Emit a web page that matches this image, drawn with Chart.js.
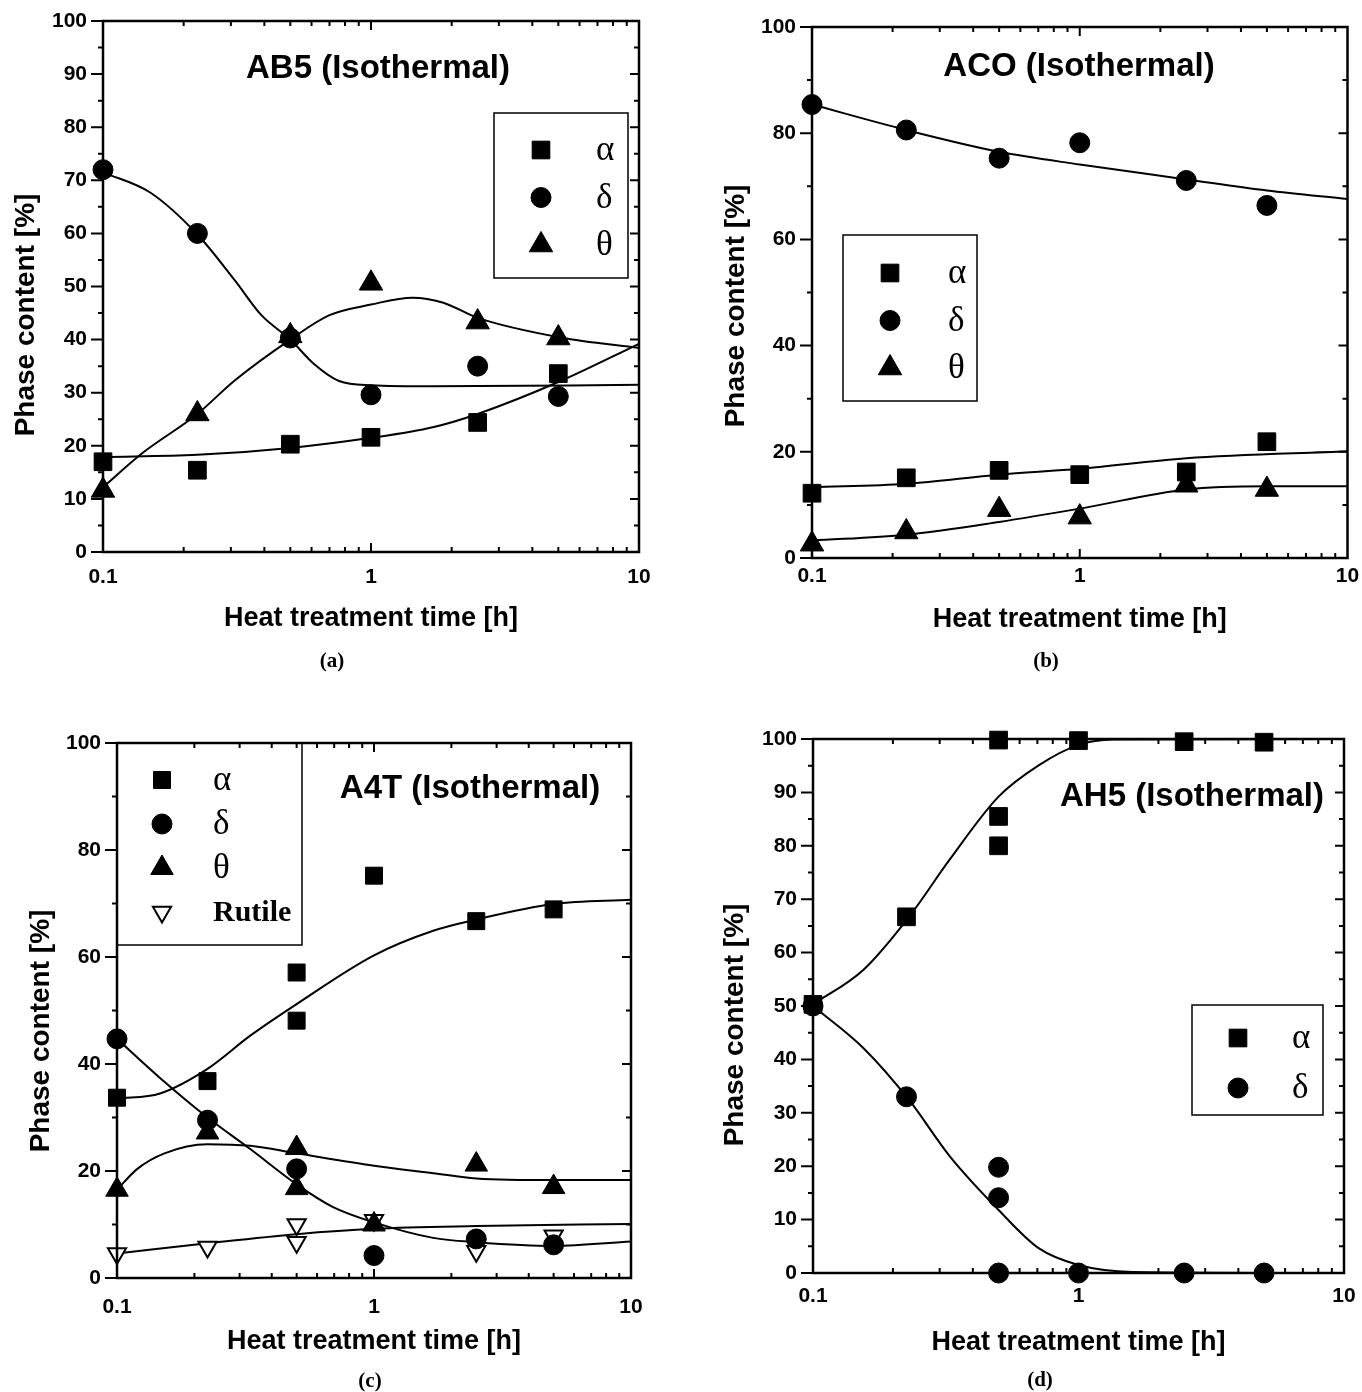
<!DOCTYPE html>
<html>
<head>
<meta charset="utf-8">
<title>Phase content vs. heat treatment time</title>
<script src="https://cdn.jsdelivr.net/npm/chart.js@4.4.1/dist/chart.umd.min.js"></script>
<style>
  body { margin: 0; background: #fff; }
  #page { position: relative; width: 1362px; height: 1392px; overflow: hidden; background: #fff; }
  #page canvas { position: absolute; }
  .caption { position: absolute; width: 60px; margin-left: -30px; text-align: center; line-height: 24px;
             font: bold 21px "Liberation Serif", "Times New Roman", serif; color: #000; }
</style>
</head>
<body>
<div id="page">
  <canvas id="chart-a" width="680" height="690" style="left:0;top:0"></canvas>
  <canvas id="chart-b" width="682" height="690" style="left:680px;top:0"></canvas>
  <canvas id="chart-c" width="680" height="692" style="left:0;top:700px"></canvas>
  <canvas id="chart-d" width="682" height="692" style="left:680px;top:700px"></canvas>
  <div class="caption" style="left:332px;top:648px">(a)</div>
  <div class="caption" style="left:1046px;top:648px">(b)</div>
  <div class="caption" style="left:370px;top:1368px">(c)</div>
  <div class="caption" style="left:1040px;top:1367px">(d)</div>
</div>
<script>
const SANS = '"Liberation Sans", Arial, sans-serif';
const SERIF = '"Liberation Serif", "Times New Roman", serif';

// (a) AB5 - measured points
const ab5Times = [0.1, 0.225, 0.5, 1, 2.5, 5];
const ab5Alpha = [17, 15.4, 20.3, 21.6, 24.4, 33.6];
const ab5Delta = [72, 60, 40.3, 29.6, 35, 29.3];
const ab5Theta = [11.6, 26, 40.7, 50.6, 43.3, 40.3];
// (a) fitted curves
const ab5FitAlphaX = [0.1, 0.225, 0.5, 1, 1.7, 2.5, 5.1, 10];
const ab5FitAlphaY = [17.9, 18.3, 19.6, 21.5, 23.5, 26, 32.2, 39.2];
const ab5FitDeltaX = [0.1, 0.15, 0.225, 0.31, 0.39, 0.5, 0.61, 0.76, 1, 1.7, 10];
const ab5FitDeltaY = [71.5, 67.7, 59.8, 51.2, 44.6, 40, 35.5, 32.2, 31.4, 31.2, 31.5];
const ab5FitThetaX = [0.1, 0.14, 0.225, 0.31, 0.5, 0.7, 1, 1.43, 1.85, 2.5, 5.1, 10];
const ab5FitThetaY = [12.2, 18.6, 26, 32.3, 40, 44.6, 46.6, 47.9, 47, 44.1, 40.4, 38.4];

// (b) ACO
const acoTimes = [0.1, 0.225, 0.5, 1, 2.5, 5];
const acoAlpha = [12.2, 15.1, 16.5, 15.7, 16.2, 21.9];
const acoDelta = [85.4, 80.6, 75.3, 78.2, 71.1, 66.4];
const acoTheta = [2.6, 4.9, 9.1, 7.7, 13.7, 12.9];
const acoFitAlphaX = [0.1, 0.225, 0.5, 1, 2.5, 10];
const acoFitAlphaY = [13.3, 14, 15.7, 16.8, 18.8, 20.1];
const acoFitDeltaX = [0.1, 0.225, 0.5, 1, 2.5, 5, 10];
const acoFitDeltaY = [85.4, 80.6, 76.5, 74.1, 71.3, 69.2, 67.6];
const acoFitThetaX = [0.1, 0.225, 0.5, 1, 2.5, 5, 10];
const acoFitThetaY = [3.3, 4.4, 6.8, 9.3, 12.9, 13.5, 13.5];

// (c) A4T
const a4tAlphaX = [0.1, 0.225, 0.5, 0.5, 1, 2.5, 5];
const a4tAlphaY = [33.7, 36.8, 57.1, 48.1, 75.2, 66.7, 68.9];
const a4tDeltaX = [0.1, 0.225, 0.5, 1, 2.5, 5];
const a4tDeltaY = [44.7, 29.5, 20.4, 4.2, 7.3, 6.2];
const a4tThetaX = [0.1, 0.225, 0.5, 0.5, 1, 2.5, 5];
const a4tThetaY = [16.5, 27.2, 24.3, 16.8, 10, 21.2, 17];
const a4tRutileX = [0.1, 0.225, 0.5, 0.5, 1, 2.5, 5];
const a4tRutileY = [4.6, 5.8, 10, 6.7, 10.8, 5, 7.9];
const a4tFitAlphaX = [0.1, 0.147, 0.225, 0.33, 0.5, 1, 1.7, 2.5, 5, 10];
const a4tFitAlphaY = [33.5, 34.5, 39.1, 45.3, 51.2, 60.3, 64.9, 67, 69.9, 70.7];
const a4tFitDeltaX = [0.1, 0.147, 0.225, 0.33, 0.5, 0.69, 1, 1.7, 2.5, 5, 10];
const a4tFitDeltaY = [44.7, 37.4, 30, 24.1, 17.5, 13.3, 10.4, 7.5, 6.7, 6, 6.8];
const a4tFitThetaX = [0.1, 0.12, 0.153, 0.225, 0.33, 0.5, 1, 1.7, 2.5, 5, 10];
const a4tFitThetaY = [16.5, 20.4, 23.3, 25, 24.7, 23.3, 21, 19.6, 18.6, 18.3, 18.3];
const a4tFitRutileX = [0.1, 0.225, 0.5, 1, 2.5, 10];
const a4tFitRutileY = [4.6, 6.5, 8.2, 9.2, 9.7, 10.1];

// (d) AH5
const ah5AlphaX = [0.1, 0.225, 0.5, 0.5, 0.5, 1, 2.5, 5];
const ah5AlphaY = [50.3, 66.7, 99.8, 85.5, 80, 99.7, 99.5, 99.4];
const ah5DeltaX = [0.1, 0.225, 0.5, 0.5, 0.5, 1, 2.5, 5];
const ah5DeltaY = [50, 33, 19.8, 14.1, 0, 0, 0, 0];
const ah5FitAlphaX = [0.1, 0.155, 0.23, 0.327, 0.5, 0.71, 1, 1.35, 10];
const ah5FitAlphaY = [50.3, 56.8, 66.7, 77.4, 89.2, 95.1, 98.9, 99.9, 100];
const ah5FitDeltaX = [0.1, 0.155, 0.23, 0.327, 0.5, 0.71, 1, 1.6, 10];
const ah5FitDeltaY = [50, 42.1, 32.4, 21.9, 11.8, 4.6, 1.5, 0.2, 0];

// x axis labels (log decades)
const timeLabels = [0.1, 1, 10];

function points(xs, ys) {
  return xs.map((x, i) => ({ x: x, y: ys[i] }));
}

// scatter markers of one phase
function markerSet(label, xs, ys, style, radius, hollow) {
  return {
    label: label,
    data: points(xs, ys),
    showLine: false,
    clip: false,
    pointStyle: style,
    pointRadius: radius,
    pointHoverRadius: radius,
    pointRotation: hollow ? 180 : 0,
    pointBackgroundColor: hollow ? '#fff' : '#000',
    pointBorderColor: '#000',
    pointBorderWidth: hollow ? 2 : 1,
    inLegend: true
  };
}

// smooth guide line
function fitSet(xs, ys) {
  return {
    data: points(xs, ys),
    showLine: true,
    pointRadius: 0,
    pointHoverRadius: 0,
    borderColor: '#000',
    borderWidth: 2,
    cubicInterpolationMode: 'monotone',
    fill: false,
    inLegend: false
  };
}

function drawMarker(ctx, style, r, x, y, down) {
  ctx.beginPath();
  if (style === 'circle') {
    ctx.arc(x, y, r, 0, Math.PI * 2);
  } else if (style === 'rect') {
    const s = r * Math.SQRT1_2;
    ctx.rect(x - s, y - s, 2 * s, 2 * s);
  } else {
    const d = down ? -1 : 1;
    ctx.moveTo(x, y - d * r);
    ctx.lineTo(x + 0.866 * r, y + d * 0.5 * r);
    ctx.lineTo(x - 0.866 * r, y + d * 0.5 * r);
    ctx.closePath();
  }
  ctx.fill();
  ctx.stroke();
}

// boxed legend inside the plot
const legendBox = {
  id: 'legendBox',
  afterDatasetsDraw(chart, args, o) {
    const ctx = chart.ctx;
    const items = chart.data.datasets.filter(d => d.inLegend);
    ctx.save();
    ctx.fillStyle = '#fff';
    ctx.fillRect(o.x, o.y, o.w, o.h);
    ctx.strokeStyle = '#000';
    ctx.lineWidth = 1.5;
    ctx.strokeRect(o.x, o.y, o.w, o.h);
    items.forEach((ds, i) => {
      const cy = o.firstY + i * o.stepY;
      ctx.fillStyle = ds.pointBackgroundColor;
      ctx.strokeStyle = '#000';
      ctx.lineWidth = ds.pointBorderWidth;
      drawMarker(ctx, ds.pointStyle, ds.pointRadius, o.symX, cy, ds.pointRotation === 180);
      ctx.fillStyle = '#000';
      ctx.textAlign = 'left';
      ctx.textBaseline = 'middle';
      ctx.font = ds.label.length > 1 ? 'bold 30px ' + SERIF : '35px ' + SERIF;
      ctx.fillText(ds.label, o.textX, cy + 1);
    });
    ctx.restore();
  }
};

// frame with tick marks on all four sides
const frame = {
  id: 'frame',
  afterDatasetsDraw(chart, args, o) {
    const { ctx, chartArea: a } = chart;
    const xs = chart.scales.x, ys = chart.scales.y;
    ctx.save();
    ctx.strokeStyle = '#000';
    ctx.lineWidth = 2.5;
    ctx.strokeRect(a.left, a.top, a.right - a.left, a.bottom - a.top);
    ctx.lineWidth = 2;
    ctx.beginPath();
    for (let e = -1; e <= 0; e++) {
      for (let k = 1; k <= 9; k++) {
        const px = xs.getPixelForValue(k * Math.pow(10, e));
        const len = k === 1 ? 9 : 5;
        ctx.moveTo(px, a.bottom); ctx.lineTo(px, a.bottom - len);
        ctx.moveTo(px, a.top); ctx.lineTo(px, a.top + len);
      }
    }
    for (let v = 0; v <= 100; v += o.minor) {
      const py = ys.getPixelForValue(v);
      const major = v % o.major === 0;
      ctx.moveTo(a.left, py); ctx.lineTo(a.left - (major ? 12 : 5), py);
      ctx.moveTo(a.right, py); ctx.lineTo(a.right - (major ? 9 : 5), py);
    }
    ctx.stroke();
    ctx.restore();
  }
};

// panel title and rotated y-axis title
const panelLabels = {
  id: 'panelLabels',
  afterDraw(chart, args, o) {
    const ctx = chart.ctx;
    ctx.save();
    ctx.fillStyle = '#000';
    ctx.textAlign = 'center';
    ctx.textBaseline = 'middle';
    ctx.font = 'bold 33px ' + SANS;
    ctx.fillText(o.title, o.titleX, o.titleY);
    ctx.translate(o.yTitleX, o.yTitleY);
    ctx.rotate(-Math.PI / 2);
    ctx.font = 'bold 28px ' + SANS;
    ctx.fillText('Phase content [%]', 0, 0);
    ctx.restore();
  }
};

function makePanel(id, datasets, g) {
  const tickFont = { family: SANS, size: 21, weight: 'bold' };
  return new Chart(document.getElementById(id), {
    type: 'scatter',
    data: { datasets: datasets },
    options: {
      responsive: false,
      animation: false,
      devicePixelRatio: 1,
      layout: { padding: { left: 0, top: g.top, right: g.right, bottom: 0 } },
      plugins: {
        legend: { display: false },
        tooltip: { enabled: false },
        legendBox: g.legend,
        frame: { major: g.yStep, minor: g.yMinor },
        panelLabels: g.labels
      },
      scales: {
        x: {
          type: 'logarithmic',
          min: 0.1,
          max: 10,
          afterBuildTicks: s => { s.ticks = timeLabels.map(v => ({ value: v })); },
          afterFit: s => { s.height = g.xAxisH; s.paddingLeft = 0; s.paddingRight = 0; },
          grid: { display: false, drawTicks: false },
          border: { display: false },
          ticks: { autoSkip: false, maxRotation: 0, padding: g.xPad, color: '#000', font: tickFont,
                   callback: v => String(v) },
          title: { display: true, text: 'Heat treatment time [h]', color: '#000',
                   font: { family: SANS, size: 27, weight: 'bold' },
                   padding: { top: 0, bottom: g.xTitlePad } }
        },
        y: {
          min: 0,
          max: 100,
          afterFit: s => { s.width = g.left; s.paddingTop = 0; s.paddingBottom = 0; },
          grid: { display: false, drawTicks: false },
          border: { display: false },
          ticks: { stepSize: g.yStep, padding: 16, color: '#000', font: tickFont }
        }
      }
    },
    plugins: [legendBox, frame, panelLabels]
  });
}

makePanel('chart-a', [
  markerSet('α', ab5Times, ab5Alpha, 'rect', 12.5),
  markerSet('δ', ab5Times, ab5Delta, 'circle', 10),
  markerSet('θ', ab5Times, ab5Theta, 'triangle', 13.5),
  fitSet(ab5FitAlphaX, ab5FitAlphaY),
  fitSet(ab5FitDeltaX, ab5FitDeltaY),
  fitSet(ab5FitThetaX, ab5FitThetaY)
], {
  left: 103, top: 21, right: 41, xAxisH: 138, xPad: 13, xTitlePad: 55, yStep: 10, yMinor: 5,
  legend: { x: 494, y: 113, w: 134, h: 165, symX: 541, textX: 596, firstY: 150, stepY: 47.5 },
  labels: { title: 'AB5 (Isothermal)', titleX: 378, titleY: 69, yTitleX: 26, yTitleY: 315 }
});

makePanel('chart-b', [
  markerSet('α', acoTimes, acoAlpha, 'rect', 12.5),
  markerSet('δ', acoTimes, acoDelta, 'circle', 10),
  markerSet('θ', acoTimes, acoTheta, 'triangle', 13.5),
  fitSet(acoFitAlphaX, acoFitAlphaY),
  fitSet(acoFitDeltaX, acoFitDeltaY),
  fitSet(acoFitThetaX, acoFitThetaY)
], {
  left: 132, top: 27, right: 12, xAxisH: 132, xPad: 6, xTitlePad: 54, yStep: 20, yMinor: 10,
  legend: { x: 163, y: 235, w: 134, h: 166, symX: 210, textX: 268, firstY: 273, stepY: 47.5 },
  labels: { title: 'ACO (Isothermal)', titleX: 399, titleY: 67, yTitleX: 56, yTitleY: 306 }
});

makePanel('chart-c', [
  markerSet('α', a4tAlphaX, a4tAlphaY, 'rect', 12),
  markerSet('δ', a4tDeltaX, a4tDeltaY, 'circle', 10),
  markerSet('θ', a4tThetaX, a4tThetaY, 'triangle', 13),
  markerSet('Rutile', a4tRutileX, a4tRutileY, 'triangle', 10.5, true),
  fitSet(a4tFitAlphaX, a4tFitAlphaY),
  fitSet(a4tFitDeltaX, a4tFitDeltaY),
  fitSet(a4tFitThetaX, a4tFitThetaY),
  fitSet(a4tFitRutileX, a4tFitRutileY)
], {
  left: 117, top: 43, right: 49, xAxisH: 114, xPad: 17, xTitlePad: 34, yStep: 20, yMinor: 10,
  legend: { x: 117, y: 43, w: 185, h: 202, symX: 162, textX: 213, firstY: 80, stepY: 44 },
  labels: { title: 'A4T (Isothermal)', titleX: 470, titleY: 89, yTitleX: 41, yTitleY: 331 }
});

makePanel('chart-d', [
  markerSet('α', ah5AlphaX, ah5AlphaY, 'rect', 12.5),
  markerSet('δ', ah5DeltaX, ah5DeltaY, 'circle', 10),
  fitSet(ah5FitAlphaX, ah5FitAlphaY),
  fitSet(ah5FitDeltaX, ah5FitDeltaY)
], {
  left: 133, top: 39, right: 18, xAxisH: 119, xPad: 11, xTitlePad: 33, yStep: 10, yMinor: 5,
  legend: { x: 512, y: 305, w: 131, h: 110, symX: 558, textX: 612, firstY: 338, stepY: 50 },
  labels: { title: 'AH5 (Isothermal)', titleX: 512, titleY: 97, yTitleX: 55, yTitleY: 325 }
});
</script>
</body>
</html>
